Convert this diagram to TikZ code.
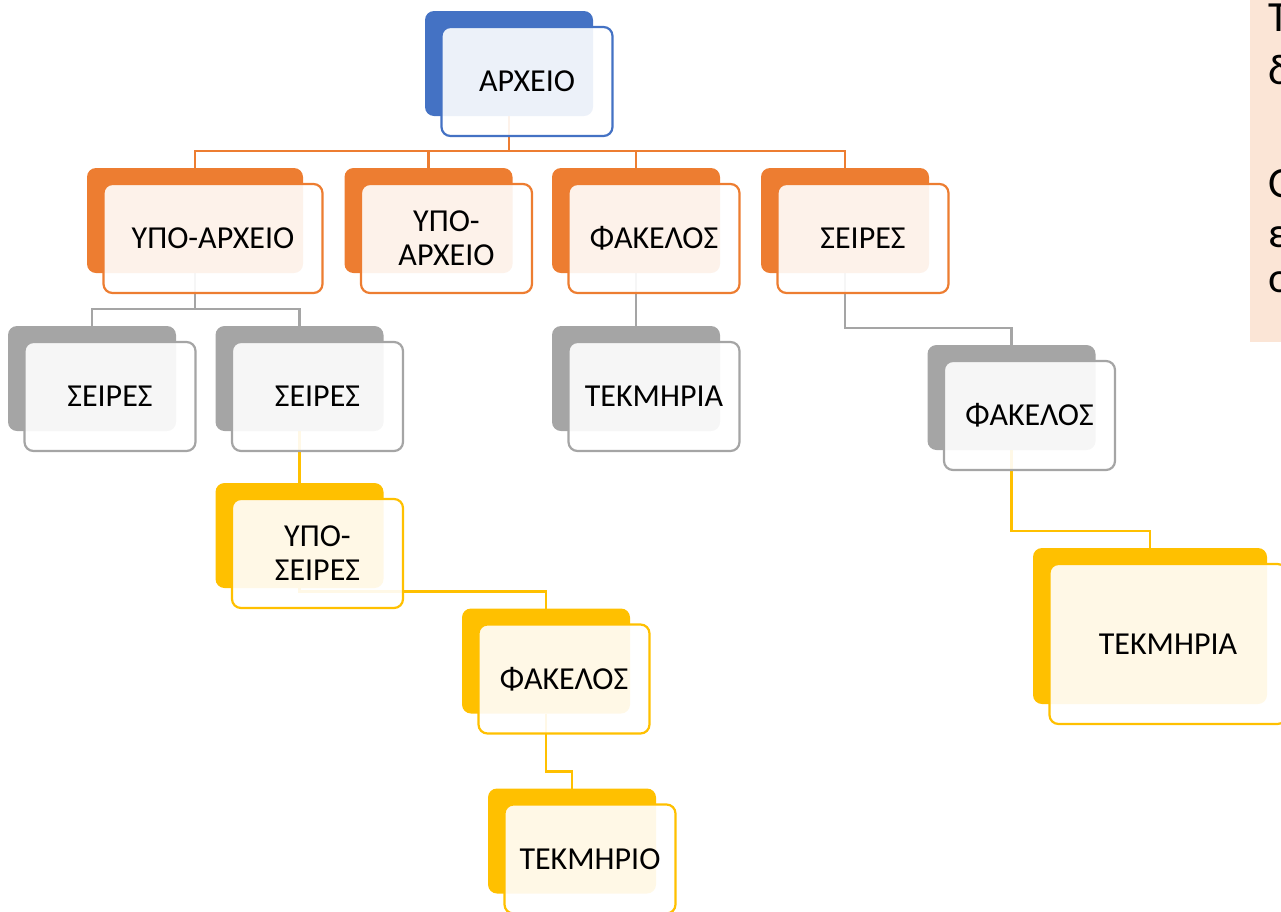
\documentclass[tikz,border=0pt]{standalone}
\usepackage{fontspec}
\setmainfont{Carlito}
\usetikzlibrary{calc}
\definecolor{cblue}{HTML}{4472C4}
\definecolor{corange}{HTML}{ED7D31}
\definecolor{cgrey}{HTML}{A5A5A5}
\definecolor{cyellow}{HTML}{FFC000}
\definecolor{cpeach}{HTML}{FBE5D6}
\pgfdeclarelayer{background}
\pgfsetlayers{background,main}
\tikzset{
 backbox/.style={rectangle, rounded corners=9pt, inner sep=0pt, outer sep=0pt},
 frontbox/.style={rectangle, rounded corners=9pt, inner sep=0pt, outer sep=0pt, fill=white, fill opacity=0.9, line width=2.2pt},
 lbl/.style={font=\fontsize{32}{34}\selectfont, align=center, text=black},
 sidelbl/.style={font=\fontsize{43}{52}\selectfont, anchor=base west, inner sep=0pt, text=black},
 conn/.style={line width=2.5pt},
}
\newcommand\bx[7]{%
 \node[backbox, fill=#6, minimum width=#4pt, minimum height=#5pt] (#1) at (#2,#3) {};
 \node[frontbox, draw=#6, minimum width=#4pt+3pt, minimum height=#5pt+4pt] (#1f) at (#2+18,#3+18) {};
 \node[lbl] (#1t) at (#1f.center) {#7};
}
\newcommand\cn[3]{\draw[conn,#3] (#1.south) |- ($(#2.north)+(0,-17)$) -| (#2.north);}
\begin{document}
\begin{tikzpicture}[x=1pt,y=-1pt]
\useasboundingbox (0,0) rectangle (1281,911);
\clip (0,0) rectangle (1281,911);
% side text box
\fill[cpeach] (1250,-5) rectangle (1290,342);
\node[sidelbl] (s1) at (1268,31) {Τ};
\node[sidelbl] (s2) at (1268,84) {δ};
\node[sidelbl] (s3) at (1268,197) {Ο};
\node[sidelbl] (s4) at (1268,247) {ε};
\node[sidelbl] (s5) at (1268,292) {ο};
% boxes
\bx{a}{509}{63.5}{168}{105}{cblue}{ΑΡΧΕΙΟ}
\bx{ba}{195}{220.5}{216}{105}{corange}{ΥΠΟ-ΑΡΧΕΙΟ}
\bx{bb}{428.5}{220.5}{168}{105}{corange}{ΥΠΟ-\\ΑΡΧΕΙΟ}
\bx{bc}{636}{220.5}{168}{105}{corange}{ΦΑΚΕΛΟΣ}
\bx{bd}{845}{220.5}{168}{105}{corange}{ΣΕΙΡΕΣ}
\bx{ca}{92}{378.5}{168}{105}{cgrey}{ΣΕΙΡΕΣ}
\bx{cb}{299.5}{378.5}{168}{105}{cgrey}{ΣΕΙΡΕΣ}
\bx{cc}{636}{378.5}{168}{105}{cgrey}{ΤΕΚΜΗΡΙΑ}
\bx{cd}{1011.5}{397.5}{168}{105}{cgrey}{ΦΑΚΕΛΟΣ}
\bx{da}{299.5}{535.5}{168}{105}{cyellow}{ΥΠΟ-\\ΣΕΙΡΕΣ}
\bx{db}{546}{661}{168}{105}{cyellow}{ΦΑΚΕΛΟΣ}
\bx{dc}{572}{841}{168}{105}{cyellow}{ΤΕΚΜΗΡΙΟ}
\bx{dd}{1150}{626}{234}{156}{cyellow}{ΤΕΚΜΗΡΙΑ}
% connectors
\begin{pgfonlayer}{background}
\cn{a}{ba}{corange}
\cn{a}{bb}{corange}
\cn{a}{bc}{corange}
\cn{a}{bd}{corange}
\cn{ba}{ca}{cgrey}
\cn{ba}{cb}{cgrey}
\cn{bc}{cc}{cgrey}
\cn{bd}{cd}{cgrey}
\cn{cb}{da}{cyellow}
\cn{da}{db}{cyellow}
\cn{db}{dc}{cyellow}
\cn{cd}{dd}{cyellow}
\end{pgfonlayer}
\end{tikzpicture}
\end{document}
